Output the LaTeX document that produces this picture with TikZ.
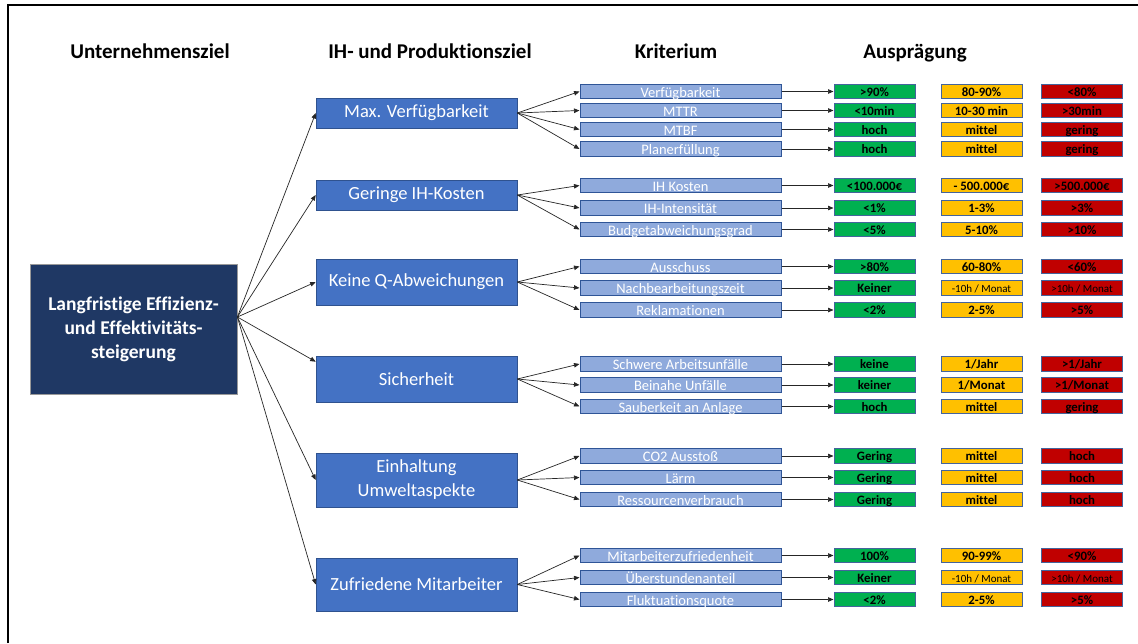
\documentclass[tikz,border=0pt]{standalone}
\usepackage{fontspec}
\setmainfont{Carlito}[Ligatures=NoCommon]
\usetikzlibrary{arrows.meta}

\definecolor{navy}{HTML}{1F3864}
\definecolor{goalblue}{HTML}{4472C4}
\definecolor{goalborder}{HTML}{2F528F}
\definecolor{critblue}{HTML}{8FAADC}
\definecolor{critborder}{HTML}{2F5597}
\definecolor{rateborder}{HTML}{44649C}
\definecolor{okgreen}{HTML}{00B050}
\definecolor{midyellow}{HTML}{FFC000}
\definecolor{badred}{HTML}{C00000}

\newcommand\smtxt{\mdseries\fontsize{11}{11}\selectfont}

\begin{document}
\begin{tikzpicture}[x=1pt,y=-1pt,
  heading/.style={font=\bfseries\fontsize{21}{24}\selectfont, anchor=base, inner sep=0},
  mainbox/.style={draw=gray!80, line width=0.8pt, fill=navy, text=white,
    font=\bfseries\fontsize{19.5}{24}\selectfont, align=center,
    minimum width=207pt, minimum height=130pt, inner sep=0},
  goalbox/.style={draw=goalborder, line width=0.6pt, fill=goalblue, text=white,
    font=\fontsize{18.5}{24}\selectfont, align=center,
    minimum width=201pt, inner sep=0},
  critbox/.style={draw=critborder, line width=1pt, fill=critblue, text=white,
    font=\fontsize{14.5}{14.5}\selectfont, minimum width=201pt, minimum height=14.5pt,
    text height=11pt, text depth=0pt, inner sep=0},
  ratebox/.style={draw=rateborder, line width=1pt, minimum width=81pt, minimum height=14.5pt,
    text height=9.5pt, text depth=0pt, inner sep=0,
    font=\bfseries\fontsize{12.8}{12.8}\selectfont},
  goodbox/.style={ratebox, fill=okgreen},
  midbox/.style={ratebox, fill=midyellow},
  badbox/.style={ratebox, fill=badred},
  arr/.style={draw=black!85, line width=0.7pt, -{Triangle[length=5.5pt,width=4.5pt]}}
]
\useasboundingbox (0,0) rectangle (1138,643);
\fill[white] (0,0) rectangle (1138,643);
\draw[line width=2.5pt] (8,643) -- (8,5) -- (1138,5);

% column headings
\node[heading] (h1) at (150,58) {Unternehmensziel};
\node[heading] (h2) at (430,58) {IH- und Produktionsziel};
\node[heading] (h3) at (676,58) {Kriterium};
\node[heading] (h4) at (915,58) {Ausprägung};

% company goal
\node[mainbox] (main) at (133.5,329) {Langfristige Effizienz-\\und Effektivitäts-\\steigerung};
\coordinate (hub) at ([yshift=12pt]main.east);

% maintenance and production goals
\node[goalbox, minimum height=30pt] (max)   at (416.5,113)   {Max. Verfügbarkeit};
\node[goalbox, minimum height=30pt] (ger)   at (416.5,195)   {Geringe IH-Kosten};
\node[goalbox, minimum height=46pt] (keine) at (416.5,282)   {Keine Q-Abweichungen};
\node[goalbox, minimum height=46pt] (sich)  at (416.5,379)   {Sicherheit};
\node[goalbox, minimum height=54pt] (einh)  at (416.5,480)   {Einhaltung\\Umweltaspekte};
\node[goalbox, minimum height=53pt] (zuf)   at (416.5,584.5) {Zufriedene Mitarbeiter};

\foreach \gname in {max,ger,keine,einh,zuf}
  \draw[arr] (hub) -- (\gname.west);
\draw[arr] (hub) -- ([yshift=-6pt]sich.north west);

% criteria with their rating scale
\foreach \i/\yy/\crit/\good/\mid/\bad in {
  1/91.5/Verfügbarkeit/{>90\%}/{80-90\%}/{<80\%},
  2/110.5/MTTR/{<10min}/{10-30 min}/{>30min},
  3/129.5/MTBF/hoch/mittel/gering,
  4/149/Planerfüllung/hoch/mittel/gering,
  5/185.5/IH Kosten/{<100.000€}/{- 500.000€}/{>500.000€},
  6/208/IH-Intensität/{<1\%}/{1-3\%}/{>3\%},
  7/229.5/Budgetabweichungsgrad/{<5\%}/{5-10\%}/{>10\%},
  8/266.5/Ausschuss/{>80\%}/{60-80\%}/{<60\%},
  9/288/Nachbearbeitungszeit/Keiner/{\smtxt -10h / Monat}/{\smtxt >10h / Monat},
  10/310/Reklamationen/{<2\%}/{2-5\%}/{>5\%},
  11/364/Schwere Arbeitsunfälle/keine/{1/Jahr}/{>1/Jahr},
  12/385/Beinahe Unfälle/keiner/{1/Monat}/{>1/Monat},
  13/406.5/Sauberkeit an Anlage/hoch/mittel/gering,
  14/456/CO2 Ausstoß/Gering/mittel/hoch,
  15/477.5/Lärm/Gering/mittel/hoch,
  16/499.5/Ressourcenverbrauch/Gering/mittel/hoch,
  17/555.5/Mitarbeiterzufriedenheit/100\%/{90-99\%}/{<90\%},
  18/577.5/Überstundenanteil/Keiner/{\smtxt -10h / Monat}/{\smtxt >10h / Monat},
  19/599.5/Fluktuationsquote/{<2\%}/{2-5\%}/{>5\%}}
{
  \node[critbox] (c\i) at (680.5,\yy) {\crit};
  \node[goodbox] (g\i) at (874.5,\yy) {\good};
  \node[midbox]  (m\i) at (981.5,\yy) {\mid};
  \node[badbox]  (r\i) at (1082,\yy)  {\bad};
  \draw[arr] (c\i.east) -- (g\i.west);
}

% goal to criterion connectors
\foreach \gname/\list in {max/{1,2,3,4}, ger/{5,6,7}, keine/{8,9,10},
                          sich/{11,12,13}, einh/{14,15,16}, zuf/{17,18,19}}
  \foreach \j in \list
    \draw[arr] (\gname.east) -- (c\j.west);
\end{tikzpicture}
\end{document}
